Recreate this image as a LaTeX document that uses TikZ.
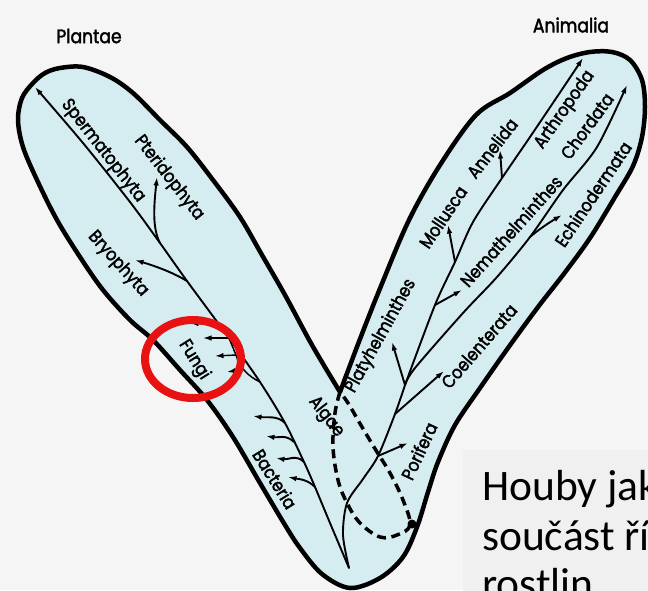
\documentclass[tikz,border=0pt]{standalone}
\usepackage{fontspec}
\setmainfont{Poppins}
\newfontfamily\lblfont{Poppins}[FakeStretch=0.88,FakeBold=2]
\newfontfamily\czfont{Carlito}
\usetikzlibrary{arrows.meta}
\definecolor{bgc}{RGB}{245,245,245}
\definecolor{boxc}{RGB}{240,240,240}
\definecolor{vfill}{RGB}{213,236,241}
\definecolor{ringred}{RGB}{232,18,18}
\begin{document}
\begin{tikzpicture}[x=1pt,y=-1pt,
  lbl/.style={font=\lblfont\fontsize{18}{18}\selectfont, inner sep=0pt},
  kingdom/.style={font=\lblfont\fontsize{19.5}{19.5}\selectfont, inner sep=0pt},
  stem/.style={line width=1.9pt, line cap=round},
  arr/.style={line width=1.9pt, -{Latex[length=8.5pt,width=5.5pt]}},
  outline/.style={line width=4.5pt, line join=round, fill=vfill},
  alg/.style={line width=3.5pt, dash pattern=on 9pt off 5.5pt},
  ring/.style={draw=ringred, line width=8pt},
  cz/.style={anchor=base west, inner sep=0pt, font=\czfont\fontsize{43.5}{43.5}\selectfont}
]
\fill[bgc] (0,0) rectangle (648,590);
\useasboundingbox (0,0) rectangle (648,590);

% V outline
\coordinate (V0) at (340,392);
\draw[outline] plot[smooth, tension=0.55] coordinates {
 (V0) (360,339) (381,286) (409,220) (440,165) (476,115) (510,93) (543,70) (567,58)
 (590,52) (612,52) (630,60) (642,80) (645,107) (642,137) (633,166) (615,197)
 (590,238) (563,275) (538,307) (508,348) (480,388) (455,425) (438,462) (428,492)
 (417,527) (403,557) (380,578) (350,588) (322,574) (300,548) (285,525) (260,483)
 (233,437) (207,400) (180,370) (153,340) (130,320) (103,290) (80,257) (57,220)
 (37,180) (23,147) (18,120) (22,98) (33,83) (45,73) (60,68) (83,67) (110,77)
 (133,93) (160,120) (187,147) (213,180) (240,217) (262,255) (285,295) (312,345) (V0)} -- cycle;

% kingdoms
\node[kingdom] (plantae) at (89,36) {Plantae};
\node[kingdom] (animalia) at (571,25) {Animalia};

% plant trunk
\coordinate (PR) at (349,568);
\coordinate (Psper) at (35,87);
\coordinate (Jpter) at (160,243);
\coordinate (Tpter) at (157,177);
\coordinate (Jbryo) at (187,281);
\coordinate (Tbryo) at (135,260);
\coordinate (Jf1) at (219,325);
\coordinate (Tf1) at (190,323);
\coordinate (Jf2) at (229,338);
\coordinate (Tf2) at (203,338);
\coordinate (Jf3) at (236,355);
\coordinate (Tf3) at (215,356);
\coordinate (Jf4) at (240,370);
\coordinate (Tf4) at (227,372);
\coordinate (JfB) at (260,382);
\coordinate (Jb1) at (285,423);
\coordinate (Tb1) at (253,416);
\coordinate (Jb2) at (294,442);
\coordinate (Tb2) at (266,436);
\coordinate (Jb3) at (304,462);
\coordinate (Tb3) at (276,458);
\coordinate (Jb4) at (315,487);
\coordinate (Tb4) at (288,477);

\draw[arr] plot[smooth, tension=0.5] coordinates {(PR) (330,523) (Jb4) (Jb3) (Jb1) (JfB) (Jf2) (Jbryo) (Jpter) (130,202) (83,143) (Psper)};
\draw[arr] (Jpter) .. controls (152,228) and (154,205) .. (Tpter);
\draw[arr] (Jbryo) .. controls (172,272) and (155,266) .. (Tbryo);
% fungi
\draw[stem, line width=1.5pt] (JfB) .. controls (248,376) and (240,368) .. (Jf3) -- (Jf2);
\draw[arr, line width=1.4pt] (Jf1) -- (Tf1);
\draw[arr, line width=1.4pt] (Jf2) -- (Tf2);
\draw[arr, line width=1.4pt] (Jf3) -- (Tf3);
\draw[arr, line width=1.4pt] (Jf4) -- (Tf4);
% bacteria
\draw[arr] (Jb1) .. controls +(-8,-8) and +(14,2) .. (Tb1);
\draw[arr] (Jb2) .. controls +(-8,-8) and +(12,2) .. (Tb2);
\draw[arr] (Jb3) .. controls +(-8,-8) and +(12,2) .. (Tb3);
\draw[arr] (Jb4) .. controls +(-8,-8) and +(10,2) .. (Tb4);

% algae loop
\draw[alg] plot[smooth, tension=0.6] coordinates {(V0) (335,413) (333,447) (338,480) (347,503) (360,523) (380,537) (397,535) (410,525) (403,500) (390,473) (377,452) (362,427) (348,403) (V0)};
\fill (412,524) circle (4.5);

% animal trunk
\coordinate (Aj1) at (347,503);
\coordinate (Apor) at (378,456);
\coordinate (Tpor) at (408,443);
\coordinate (Acoe) at (395,414);
\coordinate (Tcoe) at (444,371);
\coordinate (AJ) at (405,385);
\coordinate (Tpla) at (392,342);
\coordinate (Anem) at (435,305);
\coordinate (Tnem) at (462,290);
\coordinate (Amol) at (455,262);
\coordinate (Tmol) at (448,225);
\coordinate (Aann) at (502,178);
\coordinate (Tann) at (500,150);
\coordinate (Tarth) at (583,58);
\coordinate (Aech) at (530,237);
\coordinate (Tech) at (562,215);
\coordinate (Tchor) at (627,85);

\draw[stem] plot[smooth, tension=0.5] coordinates {(PR) (343,535) (Aj1) (363,479) (Apor) (Acoe) (AJ)};
\draw[arr] plot[smooth, tension=0.5] coordinates {(AJ) (Anem) (Amol) (473,222) (Aann) (530,137) (563,88) (Tarth)};
\draw[arr] plot[smooth, tension=0.5] coordinates {(AJ) (415,368) (463,313) (497,277) (Aech) (563,190) (597,147) (Tchor)};
\draw[arr] (AJ) -- (Tpla);
\draw[arr] (Apor) -- (Tpor);
\draw[arr] (Acoe) -- (Tcoe);
\draw[arr] (Anem) -- (Tnem);
\draw[arr] (Amol) -- (Tmol);
\draw[arr] (Aann) -- (Tann);
\draw[arr] (Aech) .. controls (538,230) and (550,222) .. (Tech);

% labels
\node[lbl, rotate=-52] (lsper) at (103,151) {Spermatophyta};
\node[lbl, rotate=-52] (lpter) at (169,178) {Pteridophyta};
\node[lbl, rotate=-48] (lbryo) at (118,264) {Bryophyta};
\node[lbl, rotate=-58] (lfun) at (194,360) {Fungi};
\node[lbl, rotate=-58] (lbac) at (275,479) {Bacteria};
\node[lbl, rotate=-52] (lalg) at (326,417) {Algae};
\node[lbl, rotate=61] (lpla) at (381,336) {Platyhelminthes};
\node[lbl, rotate=56] (lmol) at (443,217) {Mollusca};
\node[lbl, rotate=52] (lann) at (492,148) {Annelida};
\node[lbl, rotate=55] (larth) at (565,110) {Arthropoda};
\node[lbl, rotate=54] (lchor) at (587,126) {Chordata};
\node[lbl, rotate=56] (lech) at (593,194) {Echinodermata};
\node[lbl, rotate=48] (lnem) at (511,231) {Nemathelminthes};
\node[lbl, rotate=49] (lcoe) at (479,346) {Coelenterata};
\node[lbl, rotate=65] (lpor) at (419,451) {Porifera};

% red ring
\draw[ring] (193,359) ellipse [x radius=48, y radius=39];

% text box
\begin{scope}
\clip (0,0) rectangle (648,590);
\fill[boxc] (463,450) rectangle (660,600);
\node[cz] (t1) at (482,500) {Houby jak};
\node[cz] (t2) at (482,550) {součást ří};
\node[cz] (t3) at (482,598.5) {rostlin};
\end{scope}
\end{tikzpicture}
\end{document}
